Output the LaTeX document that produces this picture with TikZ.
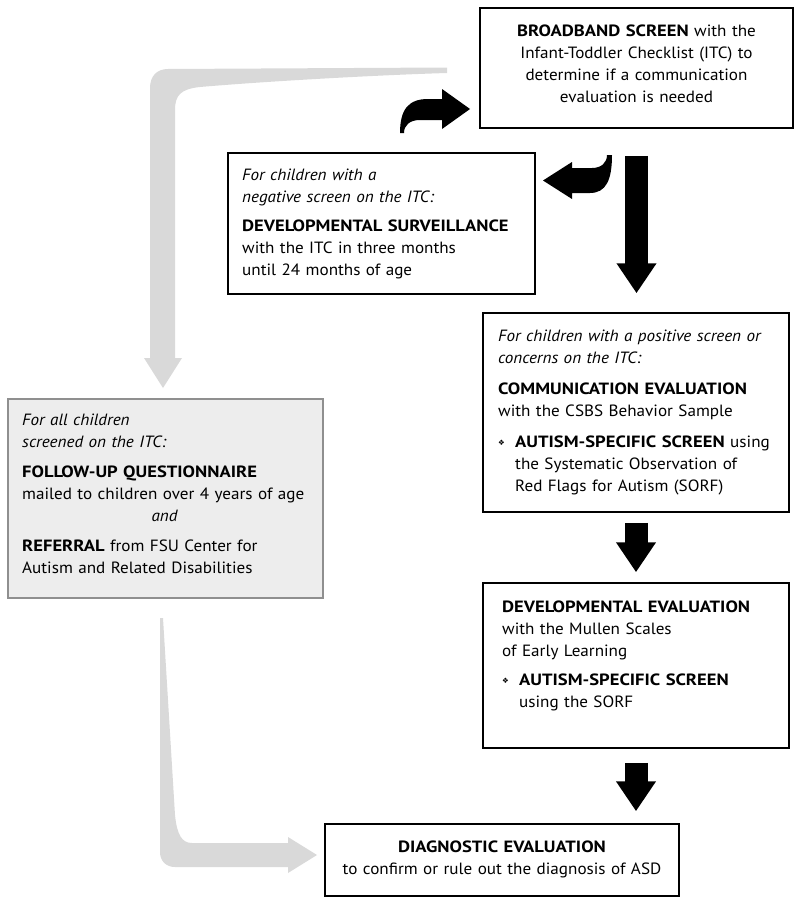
\documentclass[tikz,border=0pt]{standalone}
\usepackage{fontspec}
\setmainfont{PT Sans}[UprightFeatures={FakeStretch=1.05}, ItalicFeatures={FakeStretch=1.05}, BoldFeatures={FakeStretch=1.14}]
\newfontfamily\symfont{DejaVu Sans}
\usetikzlibrary{arrows.meta,calc}
\definecolor{arrowgray}{HTML}{D9D9D9}
\definecolor{boxgray}{HTML}{EDEDED}
\definecolor{edgegray}{HTML}{8F8F8F}
\newcommand\bul{\makebox[17bp][l]{\raisebox{1.5bp}{\symfont\fontsize{7.5bp}{8bp}\selectfont ❖}}}
\newcommand\ind{\hspace*{17bp}}
\begin{document}
\begin{tikzpicture}[x=1bp,y=-1bp,
  font=\fontsize{16.3bp}{22bp}\selectfont,
  box/.style={draw=black, fill=white, line width=1.5bp, inner sep=0pt},
  graybox/.style={draw=edgegray, fill=boxgray, line width=1.5bp, inner sep=0pt},
  txt/.style={inner sep=0pt, align=left, anchor=base west},
  ctxt/.style={inner sep=0pt, align=center, anchor=base},
  bigarrow/.style={line width=23bp, -{Triangle[width=38bp,length=30bp]}, black},
  grayarrow/.style={fill=arrowgray, draw=none},
  blackarrow/.style={fill=black, draw=none}]
\useasboundingbox (0,0) rectangle (800,907);

% gray arrows
\fill[grayarrow] (447,67.5) -- (168,69) .. controls (157,69) and (150,76) .. (150,88)
  -- (150,358) -- (144,358) -- (163,388) -- (182,358) -- (175,358) -- (175,110)
  .. controls (175,95) and (181,89) .. (200,87) .. controls (270,81) and (380,75) .. (447,73) -- cycle;
\fill[grayarrow] (160,618) -- (163,618) -- (175,815) .. controls (177,835) and (182,843) .. (192,843)
  -- (288,843) -- (288,837) -- (317,855) -- (288,873) -- (288,867) -- (175,867)
  .. controls (166,867) and (160,861) .. (160,852) -- cycle;

% boxes
\node[box, minimum width=313bp, minimum height=120bp] (b1) at (636.5,68) {};
\node[box, minimum width=307bp, minimum height=141bp] (b2) at (381.5,223.5) {};
\node[box, minimum width=306bp, minimum height=199bp] (b3) at (636,412.5) {};
\node[graybox, minimum width=315bp, minimum height=199bp] (b4) at (165.5,498.5) {};
\node[box, minimum width=306bp, minimum height=165bp] (b5) at (636,665.5) {};
\node[box, minimum width=354bp, minimum height=72bp] (b6) at (502,860) {};

% texts
\node[ctxt, text width=300bp] (t1) at (636.5,36.5)
  {\textbf{BROADBAND SCREEN} with the\\Infant-Toddler Checklist (ITC) to\\determine if a communication\\evaluation is needed};
\node[txt, text width=285bp] (t2) at (242,180)
  {\textit{For children with a}\\\textit{negative screen on the ITC:}\\[7bp]\textbf{DEVELOPMENTAL SURVEILLANCE}\\with the ITC in three months\\until 24 months of age};
\node[txt, text width=285bp] (t3) at (498,341)
  {\textit{For children with a positive screen or}\\\textit{concerns on the ITC:}\\[9bp]\textbf{COMMUNICATION EVALUATION}\\with the CSBS Behavior Sample\\[9bp]\bul\textbf{AUTISM-SPECIFIC SCREEN} using\\\ind the Systematic Observation of\\\ind Red Flags for Autism (SORF)};
\node[txt, text width=285bp] (t4) at (22,425)
  {\textit{For all children}\\\textit{screened on the ITC:}\\[8bp]\textbf{FOLLOW-UP QUESTIONNAIRE}\\mailed to children over 4 years of age\\\makebox[\linewidth]{\textit{and}}\\[8bp]\textbf{REFERRAL} from FSU Center for\\Autism and Related Disabilities};
\node[txt, text width=280bp] (t5) at (502,612)
  {\textbf{DEVELOPMENTAL EVALUATION}\\with the Mullen Scales\\of Early Learning\\[7bp]\bul\textbf{AUTISM-SPECIFIC SCREEN}\\\ind using the SORF};
\node[ctxt, text width=340bp] (t6) at (502,852)
  {\textbf{DIAGNOSTIC EVALUATION}\\to confirm or rule out the diagnosis of ASD};

% black curved arrows
\fill[blackarrow] (400,133) .. controls (400,110) and (408,99) .. (428,99) -- (442,99) -- (442,89)
  -- (470,109) -- (442,129) -- (442,120) -- (420,120) .. controls (410,120) and (404,125) .. (404,133) -- cycle;
\fill[blackarrow] (612,155) .. controls (612,180) and (606,193) .. (590,193) -- (572,193) -- (572,199)
  -- (543,180.5) -- (572,162) -- (572,168) -- (592,168) .. controls (601,168) and (607,163) .. (607,155) -- cycle;

% black straight arrows
\draw[bigarrow, shorten <=27bp, shorten >=19bp] (b1.south) -- (b1.south |- b3.north);
\draw[bigarrow, shorten <=10bp, shorten >=10bp] (b3.south) -- (b5.north);
\draw[bigarrow, shorten <=14bp, shorten >=12bp] (b5.south) -- (b5.south |- b6.north);
\end{tikzpicture}
\end{document}
